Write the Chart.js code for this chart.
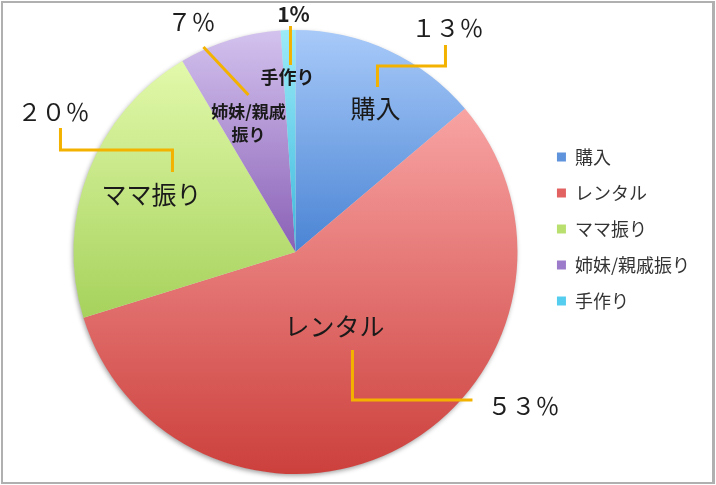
<!DOCTYPE html>
<html>
<head>
<meta charset="utf-8">
<script src="https://cdn.jsdelivr.net/npm/chart.js@4"></script>
<style>
  html, body { margin: 0; padding: 0; background: #fff; }
  #wrap { position: relative; width: 716px; height: 485px; }
  #frame {
    position: absolute; left: 1px; top: 1px; width: 709px; height: 479px;
    border: 2px solid #b0b0b0; border-right-width: 3px;
  }
  canvas { position: absolute; left: 0; top: 0; }
</style>
</head>
<body>
<div id="wrap">
  <div id="frame"></div>
  <canvas id="pie" width="716" height="485"></canvas>
</div>
<script>
const categories = ["購入", "レンタル", "ママ振り", "姉妹/親戚振り", "手作り"];
const values = [13, 53, 20, 7, 1];
const pctLabels = ["１３％", "５３％", "２０％", "７％", "1%"];
const flatColors = ["#5f93dc", "#e26262", "#b9e06f", "#9c7cca", "#55cdef"];
const topColors = ["#a8caf9", "#f8a3a3", "#e2f9ab", "#d3c2ee", "#9ceaf8"];
const bottomColors = ["#4a84d4", "#cc403c", "#a6d25c", "#8a60b6", "#3cb8dc"];

const FONT = "'Noto Sans CJK JP', 'Noto Sans', sans-serif";
const REF_R = 222;

// where each label / leader line sits, in px relative to the pie centre (for r = 222)
const labelSpots = [
  { text: [[0, 80, -144]], size: 25, weight: "normal",
    line: [[82, -165], [82, -186], [150, -186], [150, -207]], pct: [152, -224] },
  { text: [[0, 39, 74]], size: 25, weight: "normal",
    line: [[57, 98], [57, 148], [177, 148]], pct: [228, 154] },
  { text: [[0, -144, -58]], size: 25, weight: "normal",
    line: [[-123, -80], [-123, -102], [-235, -102], [-235, -124]], pct: [-242, -140] },
  { text: [["姉妹/親戚", -47, -140], ["振り", -47, -117]], size: 17, weight: "bold",
    line: [[-47, -157], [-92, -205]], pct: [-104, -230] },
  { text: [[0, -8, -175]], size: 18, weight: "bold",
    line: [[-5, -187], [-5, -226]], pct: [-2, -238], pctBold: true }
];

// gradient fill per slice + soft shadow under the pie
const shadeSlices = {
  id: "shadeSlices",
  beforeDatasetsDraw(chart) {
    const ctx = chart.ctx;
    const arcs = chart.getDatasetMeta(0).data;
    if (!arcs.length) return;
    const cx = arcs[0].x, cy = arcs[0].y, r = arcs[0].outerRadius;
    ctx.save();
    ctx.shadowColor = "rgba(0,0,0,0.4)";
    ctx.shadowBlur = 5;
    ctx.shadowOffsetX = -1;
    ctx.shadowOffsetY = 2;
    ctx.fillStyle = "#ddd";
    ctx.beginPath();
    ctx.arc(cx, cy, r - 0.5, 0, Math.PI * 2);
    ctx.fill();
    ctx.restore();

    arcs.forEach((arc, i) => {
      const a0 = arc.startAngle, a1 = arc.endAngle;
      let ys = [cy, cy + r * Math.sin(a0), cy + r * Math.sin(a1)];
      [-Math.PI / 2, Math.PI / 2, Math.PI * 1.5].forEach(a => {
        if (a >= a0 && a <= a1) ys.push(cy + r * Math.sin(a));
      });
      const g = ctx.createLinearGradient(0, Math.min(...ys), 0, Math.max(...ys));
      g.addColorStop(0, topColors[i]);
      g.addColorStop(1, bottomColors[i]);
      arc.options = Object.assign({}, arc.options, { backgroundColor: g });
    });
  }
};

const sliceLabels = {
  id: "sliceLabels",
  afterDatasetsDraw(chart) {
    const ctx = chart.ctx;
    const arcs = chart.getDatasetMeta(0).data;
    if (!arcs.length) return;
    const cx = arcs[0].x, cy = arcs[0].y, s = arcs[0].outerRadius / REF_R;
    ctx.save();
    ctx.textAlign = "center";
    ctx.textBaseline = "middle";
    labelSpots.forEach((spot, i) => {
      // leader line
      ctx.strokeStyle = "#f3b200";
      ctx.lineWidth = 3;
      ctx.lineJoin = "miter";
      ctx.beginPath();
      spot.line.forEach((p, k) => {
        const x = cx + p[0] * s, y = cy + p[1] * s;
        if (k === 0) ctx.moveTo(x, y); else ctx.lineTo(x, y);
      });
      ctx.stroke();

      // category name inside the slice
      ctx.fillStyle = "#1a1a1a";
      ctx.font = spot.weight + " " + spot.size + "px " + FONT;
      spot.text.forEach(t => {
        const txt = t[0] === 0 ? categories[i] : t[0];
        ctx.fillText(txt, cx + t[1] * s, cy + t[2] * s);
      });

      // percentage outside
      ctx.fillStyle = "#1e1e1e";
      ctx.font = (spot.pctBold ? "bold 21px " : "normal 24px ") + FONT;
      ctx.fillText(pctLabels[i], cx + spot.pct[0] * s, cy + spot.pct[1] * s);
    });
    ctx.restore();
  }
};

new Chart(document.getElementById("pie"), {
  type: "pie",
  data: {
    labels: categories,
    datasets: [{
      data: values,
      backgroundColor: flatColors,
      borderWidth: 0
    }]
  },
  options: {
    responsive: false,
    animation: false,
    layout: { padding: { top: 30, bottom: 11, left: 52, right: 16 } },
    plugins: {
      tooltip: { enabled: false },
      legend: {
        position: "right",
        align: "start",
        title: { display: true, text: " ", font: { size: 10 }, padding: { top: 0, bottom: 88 } },
        labels: {
          boxWidth: 9,
          boxHeight: 9,
          padding: 18,
          color: "#333",
          font: { family: FONT, size: 18 }
        }
      }
    }
  },
  plugins: [shadeSlices, sliceLabels]
});
</script>
</body>
</html>
